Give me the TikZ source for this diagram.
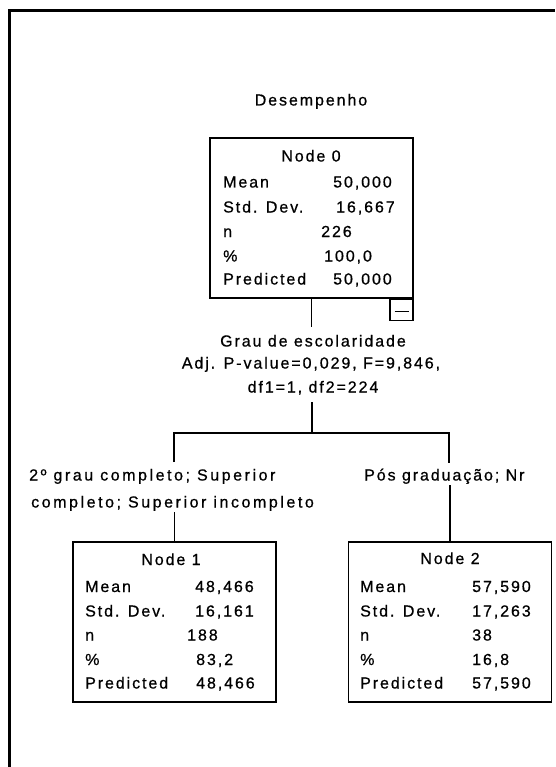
\documentclass[tikz,border=0pt]{standalone}
\usepackage{fontspec}
\setmainfont{Liberation Sans}[LetterSpace=12,FakeBold=0.7]
\begin{document}
\begin{tikzpicture}[x=1pt,y=-1pt,
  txt/.style={inner sep=0pt, font=\fontsize{16}{18}\selectfont, anchor=base west},
  ctxt/.style={inner sep=0pt, font=\fontsize{16}{18}\selectfont, anchor=base},
  wide/.style={font=\fontsize{16}{18}\selectfont\addfontfeature{LetterSpace=16}},
  box/.style={draw=black, line width=1.6pt, inner sep=0pt, minimum width=203pt, minimum height=160pt},
  conn/.style={draw=black, line width=1.8pt}]
\useasboundingbox (0,0) rectangle (555,767);
% frame (top and left only)
\draw[line width=3pt] (9.5,767) -- (9.5,11) -- (555,11);

\node[ctxt] (title) at (311,105.5) {Desempenho};

% Node 0
\node[box] (n0) at (311.5,218) {};
\node[draw=black, line width=1.6pt, inner sep=0pt, minimum width=23pt, minimum height=21pt, anchor=north east] (m0) at (n0.south east) {};
\draw[line width=1.4pt] ([xshift=-7pt,yshift=-1.5pt]m0.center) -- ([xshift=7pt,yshift=-1.5pt]m0.center);
\node[ctxt] (n0t) at (311,161.5) {Node 0};
\node[txt] (n0a) at (223,187.5) {Mean};
\node[txt] (n0b) at (223,212.5) {Std. Dev.};
\node[txt] (n0c) at (223,237) {n};
\node[txt] (n0d) at (223,261.5) {\%};
\node[txt] (n0e) at (223,284.5) {Predicted};
\node[txt] (n0av) at (333,187.5) {50,000};
\node[txt] (n0bv) at (336,212.5) {16,667};
\node[txt] (n0cv) at (321,237) {226};
\node[txt] (n0dv) at (324,261.5) {100,0};
\node[txt] (n0ev) at (333,284.5) {50,000};

% split label
\node[ctxt] (g1) at (313,346.5) {Grau de escolaridade};
\node[ctxt] (g2) at (311,368.5) {Adj. P-value=0,029, F=9,846,};
\node[ctxt] (g3) at (313,392.5) {df1=1, df2=224};

% branch labels
\node[txt,wide] (b1a) at (29,480.5) {2º grau completo; Superior};
\node[txt,wide] (b1b) at (31,507.5) {completo; Superior incompleto};
\node[txt] (b2a) at (364,480.5) {Pós graduação; Nr};

% Node 1
\node[box] (n1) at (174.5,622) {};
\node[ctxt] (n1t) at (171,565) {Node 1};
\node[txt] (n1a) at (85,592) {Mean};
\node[txt] (n1b) at (85,616.5) {Std. Dev.};
\node[txt] (n1c) at (85,640.5) {n};
\node[txt] (n1d) at (85,665) {\%};
\node[txt] (n1e) at (85,688.5) {Predicted};
\node[txt] (n1av) at (195,592) {48,466};
\node[txt] (n1bv) at (195,616.5) {16,161};
\node[txt] (n1cv) at (187,640.5) {188};
\node[txt] (n1dv) at (196,665) {83,2};
\node[txt] (n1ev) at (196,688.5) {48,466};

% Node 2
\node[box] (n2) at (450,622) {};
\node[ctxt] (n2t) at (450,564) {Node 2};
\node[txt] (n2a) at (360,592) {Mean};
\node[txt] (n2b) at (360,616.5) {Std. Dev.};
\node[txt] (n2c) at (360,640.5) {n};
\node[txt] (n2d) at (360,665) {\%};
\node[txt] (n2e) at (360,688.5) {Predicted};
\node[txt] (n2av) at (472,592) {57,590};
\node[txt] (n2bv) at (472,616.5) {17,263};
\node[txt] (n2cv) at (472,640.5) {38};
\node[txt] (n2dv) at (472,665) {16,8};
\node[txt] (n2ev) at (472,688.5) {57,590};

% connectors
\coordinate (s0) at (311.5,327);
\coordinate (s1) at (312,402);
\coordinate (j0) at (312,433);
\coordinate (jL) at (174,433);
\coordinate (jR) at (449,433);
\coordinate (lL) at (174,462);
\coordinate (lR) at (449,463);
\coordinate (uL) at (174.5,512);
\coordinate (uR) at (450,485);
\draw[conn] (n0.south) -- (s0);
\draw[conn] (s1) -- (j0);
\draw[conn] (lL) -- (jL) -- (jR) -- (lR);
\draw[conn] (uL) -- (n1.north);
\draw[conn] (uR) -- (n2.north);
\end{tikzpicture}
\end{document}
